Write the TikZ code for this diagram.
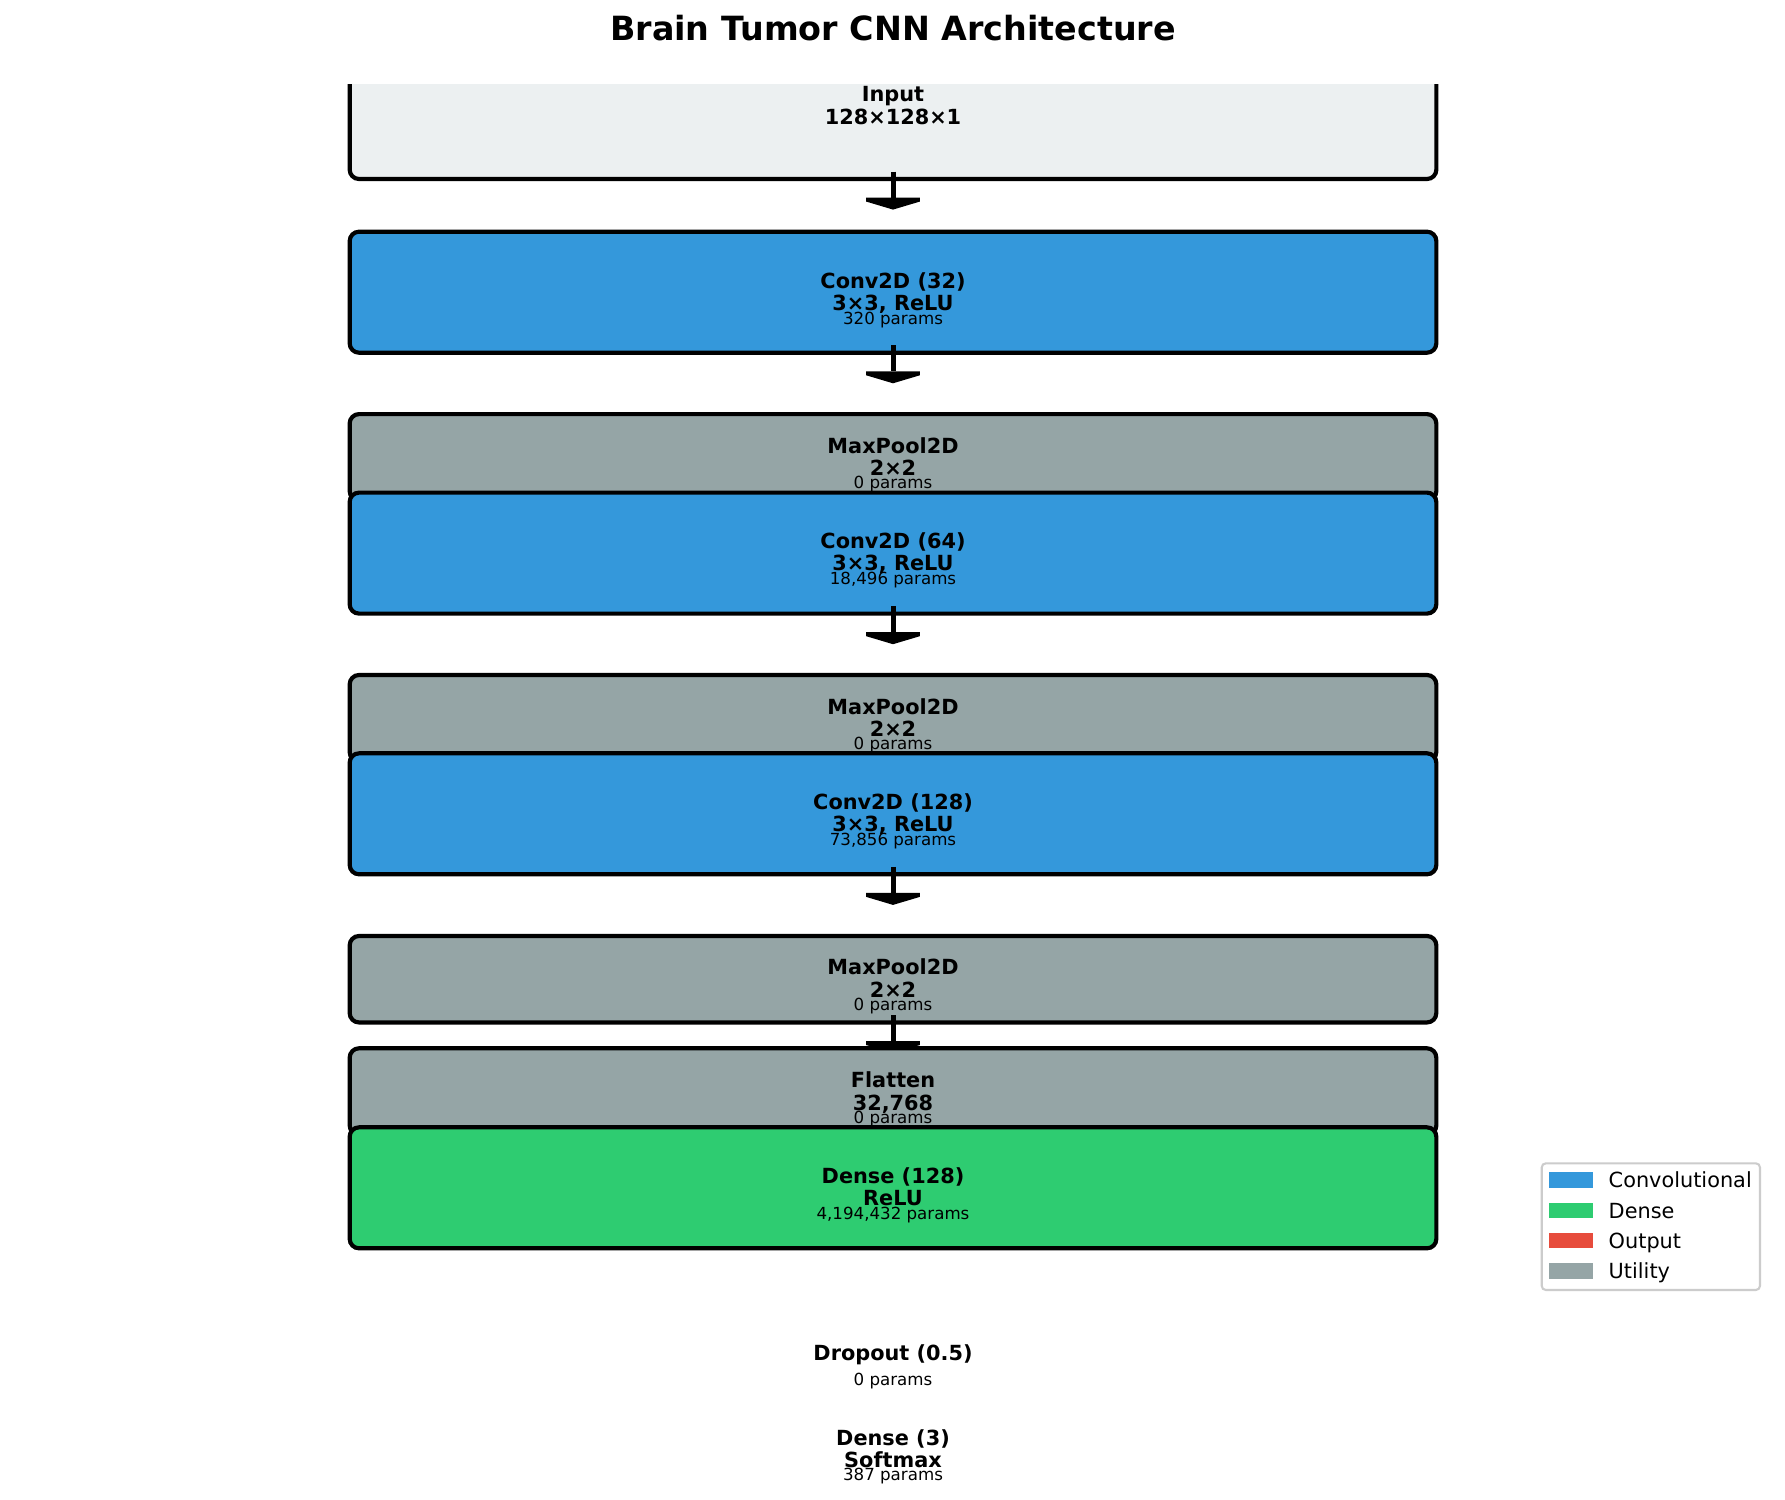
\documentclass[tikz,border=0pt]{standalone}
\usepackage{fontspec}
\setmainfont{DejaVu Sans}
\definecolor{inputc}{HTML}{ECF0F1}
\definecolor{convc}{HTML}{3498DB}
\definecolor{densec}{HTML}{2ECC71}
\definecolor{outc}{HTML}{E74C3C}
\definecolor{utilc}{HTML}{95A5A6}
\definecolor{legc}{HTML}{CCCCCC}
\tikzset{
  layerbox/.style={draw=black, line width=2pt, rounded corners=4.5pt, minimum width=521.6pt, inner sep=0pt},
  convbox/.style={layerbox, fill=convc, minimum height=58.08pt},
  densebox/.style={layerbox, fill=densec, minimum height=58.08pt},
  poolbox/.style={layerbox, fill=utilc, minimum height=41.5pt},
  inbox/.style={layerbox, fill=inputc, minimum height=70.75pt},
  lname/.style={anchor=base, inner sep=0pt, font=\fontsize{10}{12}\selectfont\bfseries},
  lparam/.style={anchor=base, inner sep=0pt, font=\fontsize{8}{9.6}\selectfont},
  legtext/.style={anchor=base west, inner sep=0pt, font=\fontsize{10}{12}\selectfont},
  shaft/.style={line width=2.4pt},
  arrowhead/.style={fill=black},
}
\newcommand{\layerarrow}[1]{%
  \coordinate (#1-as) at ([yshift=4.56pt]#1.south);
  \coordinate (#1-at) at ([yshift=-13.68pt]#1.south);
  \draw[shaft] (#1-as) -- ([yshift=5.76pt]#1-at);
  \fill[arrowhead] (#1-at) -- ([shift={(-12.86pt,3.84pt)}]#1-at) -- ([shift={(-12.86pt,5.76pt)}]#1-at)
     -- ([shift={(12.86pt,5.76pt)}]#1-at) -- ([shift={(12.86pt,3.84pt)}]#1-at) -- cycle;
}
\begin{document}
\begin{tikzpicture}[x=0.48pt, y=-0.48pt]
\fill[white] (0,0) rectangle (1785,1499);
\useasboundingbox (0,0) rectangle (1785,1499);

\node[anchor=base, inner sep=0pt, font=\fontsize{16}{19.2}\selectfont\bfseries] (title) at (893,40.7) {Brain Tumor CNN Architecture};

\begin{scope}
\clip (0,84) rectangle (1785,1252);
\node[inbox] (in) at (893,105.3) {};
\layerarrow{in}
\node[convbox] (c1) at (893,292.2) {};
\layerarrow{c1}
\node[poolbox] (p1) at (893,457.3) {};
\node[convbox] (c2) at (893,553.1) {};
\layerarrow{c2}
\node[poolbox] (p2) at (893,718.2) {};
\node[convbox] (c3) at (893,813.8) {};
\layerarrow{c3}
\node[poolbox] (p3) at (893,979.2) {};
\layerarrow{p3}
\node[poolbox] (fl) at (893,1091.5) {};
\node[densebox] (d1) at (893,1187.8) {};
\end{scope}

% layer texts
\node[lname] (tin1) at (893,101.7) {Input};
\node[lname] (tin2) at (893,124.1) {128×128×1};

\node[lname] (tc1a) at (893,288.4) {Conv2D (32)};
\node[lname] (tc1b) at (893,310.6) {3×3, ReLU};
\node[lparam] (tc1p) at (893,324.0) {320 params};

\node[lname] (tp1a) at (893,453.2) {MaxPool2D};
\node[lname] (tp1b) at (893,475.4) {2×2};
\node[lparam] (tp1p) at (893,488.7) {0 params};

\node[lname] (tc2a) at (893,548.6) {Conv2D (64)};
\node[lname] (tc2b) at (893,570.9) {3×3, ReLU};
\node[lparam] (tc2p) at (893,584.2) {18,496 params};

\node[lname] (tp2a) at (893,714.3) {MaxPool2D};
\node[lname] (tp2b) at (893,736.6) {2×2};
\node[lparam] (tp2p) at (893,749.9) {0 params};

\node[lname] (tc3a) at (893,809.4) {Conv2D (128)};
\node[lname] (tc3b) at (893,831.7) {3×3, ReLU};
\node[lparam] (tc3p) at (893,845.0) {73,856 params};

\node[lname] (tp3a) at (893,974.8) {MaxPool2D};
\node[lname] (tp3b) at (893,997.1) {2×2};
\node[lparam] (tp3p) at (893,1010.4) {0 params};

\node[lname] (tfla) at (893,1087.8) {Flatten};
\node[lname] (tflb) at (893,1110.1) {32,768};
\node[lparam] (tflp) at (893,1123.4) {0 params};

\node[lname] (td1a) at (893,1183.6) {Dense (128)};
\node[lname] (td1b) at (893,1205.9) {ReLU};
\node[lparam] (td1p) at (893,1219.2) {4,194,432 params};

\node[lname] (tdoa) at (893,1360.9) {Dropout (0.5)};
\node[lparam] (tdop) at (893,1385.3) {0 params};

\node[lname] (td2a) at (893,1445.1) {Dense (3)};
\node[lname] (td2b) at (893,1467.4) {Softmax};
\node[lparam] (td2p) at (893,1480.7) {387 params};

% legend
\draw[draw=legc, line width=1pt, rounded corners=2pt, fill=white] (1541.7,1163.3) rectangle (1760,1290);
\fill[convc]  (1549,1172.4) rectangle (1592.7,1187.6);
\fill[densec] (1549,1202.9) rectangle (1592.7,1218.1);
\fill[outc]   (1549,1232.9) rectangle (1592.7,1248.1);
\fill[utilc]  (1549,1263.4) rectangle (1592.7,1278.6);
\node[legtext] (lg1) at (1608.3,1187.6) {Convolutional};
\node[legtext] (lg2) at (1608.3,1218.1) {Dense};
\node[legtext] (lg3) at (1608.3,1248.1) {Output};
\node[legtext] (lg4) at (1608.3,1278.6) {Utility};
\end{tikzpicture}
\end{document}
